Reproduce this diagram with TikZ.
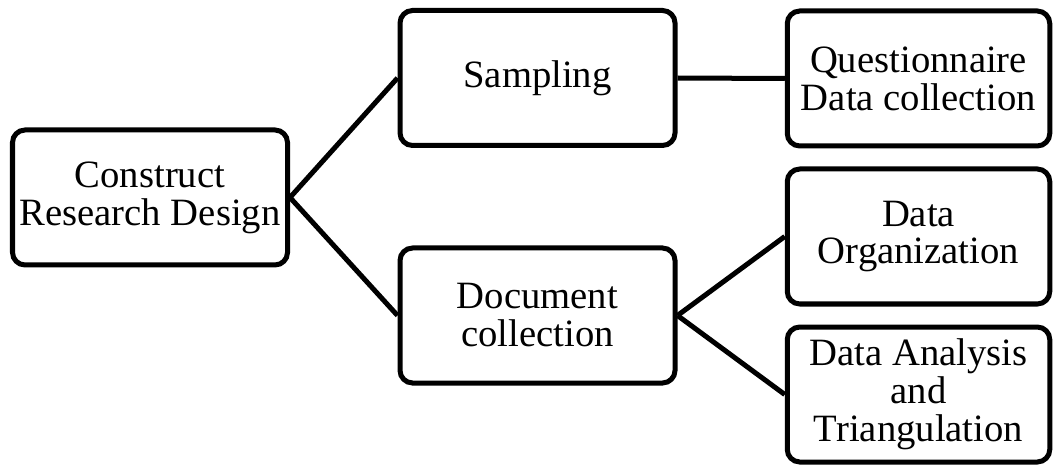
\documentclass[tikz,border=0pt]{standalone}
\usepackage{fontspec}
\setmainfont{Liberation Serif}
\usetikzlibrary{positioning}

\begin{document}
\begin{tikzpicture}
[font=\fontsize{22}{21.6}\selectfont,
% STYLES
% The stage style is used for every box of the design
stage/.style={rectangle, draw, rounded corners=0.25cm, line width=0.1cm, align=center, minimum width=5.5cm, minimum height=2.7cm, inner sep=2pt},
% The outcome style is used for the boxes of the last column
outcome/.style={stage, minimum width=5.25cm},
% The link style draws the connections between the stages
link/.style={line width=0.1cm}]

\useasboundingbox (0,0) rectangle (21.1,9.32);

% Draw stages
\node [stage] (design) at (3.0,5.37) {Construct\\Research Design};
\node [stage] (sampling) at (10.75,7.76) {Sampling};
\node [stage] (document) at (10.75,3.01) {Document\\collection};

% last column
\node [outcome] (questionnaire) at (18.37,7.75) {Questionnaire\\Data collection};
\node [outcome, below=0.36cm of questionnaire] (organization) {Data\\Organization};
\node [outcome, below=0.36cm of organization] (analysis) {Data Analysis\\and\\Triangulation};

% Draw the links between stages
\path[link]
(design.east) edge (sampling.west)
(design.east) edge (document.west)
(sampling.east) edge (questionnaire.west)
(document.east) edge (organization.west)
(document.east) edge (analysis.west);

\end{tikzpicture}
\end{document}
